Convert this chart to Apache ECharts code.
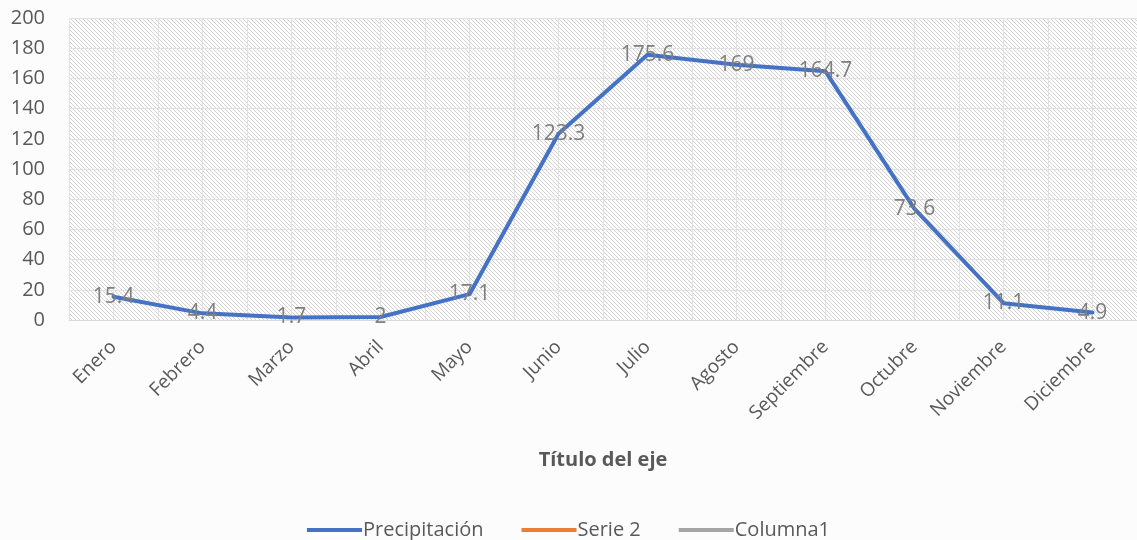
<!DOCTYPE html>
<html>
<head>
<meta charset="utf-8">
<script src="https://cdn.jsdelivr.net/npm/echarts@6/dist/echarts.min.js"></script>
<style>
  html, body { margin: 0; padding: 0; background: #fcfcfc; }
  #chart { width: 1137px; height: 540px; }
</style>
</head>
<body>
<div id="chart"></div>
<script>
// meses y precipitación
var meses = ['Enero', 'Febrero', 'Marzo', 'Abril', 'Mayo', 'Junio', 'Julio', 'Agosto', 'Septiembre', 'Octubre', 'Noviembre', 'Diciembre'];
var precipitacion = [15.4, 4.4, 1.7, 2, 17.1, 123.3, 175.6, 169, 164.7, 73.6, 11.1, 4.9];
var serie2 = [];
var columna1 = [];
var nombres = ['Precipitación', 'Serie 2', 'Columna1'];
var colores = ['#4472C4', '#ED7D31', '#A5A5A5'];

// trama rayada del fondo
function trama() {
  var c = document.createElement('canvas');
  c.width = 8; c.height = 8;
  var ctx = c.getContext('2d');
  ctx.fillStyle = '#ffffff';
  ctx.fillRect(0, 0, 8, 8);
  ctx.fillStyle = '#d2d2d2';
  for (var y = 0; y < 8; y++) {
    for (var x = 0; x < 8; x++) {
      if ((x - y + 8) % 4 == 0) ctx.fillRect(x, y, 1, 1);
    }
  }
  return c;
}

// divisiones a media categoría para las líneas verticales
var medias = [];
for (var i = 0; i < meses.length * 2; i++) medias.push('m' + i);

var chart = echarts.init(document.getElementById('chart'));
var fuente = 'Open Sans, Noto Sans, sans-serif';

var option = {
  backgroundColor: '#fcfcfc',
  color: colores,
  textStyle: { fontFamily: fuente },
  grid: {
    left: 69, top: 18, width: 1073, height: 302,
    show: true,
    borderWidth: 0,
    backgroundColor: { image: trama(), repeat: 'repeat' }
  },
  legend: {
    top: 515,
    left: 'center',
    data: nombres,
    icon: 'rect',
    itemWidth: 55,
    itemHeight: 4,
    itemGap: 38,
    textStyle: { color: '#595959', fontSize: 20, fontFamily: fuente, padding: [0, 0, 0, -4] }
  },
  xAxis: [{
    type: 'category',
    data: meses,
    boundaryGap: true,
    name: 'Título del eje',
    nameLocation: 'middle',
    nameGap: 130,
    nameTextStyle: { color: '#595959', fontSize: 20, fontWeight: 'bold', fontFamily: fuente },
    axisLine: { show: true, lineStyle: { color: '#d9d9d9', width: 1 } },
    axisTick: { show: false },
    splitLine: { show: false },
    axisLabel: { rotate: 45, margin: 24, color: '#595959', fontSize: 19, fontFamily: fuente }
  }, {
    type: 'category',
    data: medias,
    position: 'bottom',
    boundaryGap: true,
    axisLine: { show: false },
    axisTick: { show: false },
    axisLabel: { show: false },
    splitLine: { show: true, lineStyle: { color: '#e2e2e2', width: 1 } }
  }],
  yAxis: {
    type: 'value',
    min: 0, max: 200, interval: 20,
    axisLine: { show: false },
    axisTick: { show: false },
    axisLabel: { margin: 24, color: '#595959', fontSize: 20, fontFamily: fuente },
    splitLine: { show: true, lineStyle: { color: '#e2e2e2', width: 1 } }
  },
  series: [{
    name: nombres[0],
    type: 'line',
    data: precipitacion,
    symbol: 'circle',
    symbolSize: 0,
    showSymbol: true,
    lineStyle: { width: 4, color: colores[0], cap: 'round', join: 'round' },
    label: {
      show: true,
      position: 'inside',
      color: '#7f7f7f',
      fontSize: 21,
      fontFamily: fuente
    },
    z: 5
  }, {
    name: nombres[1],
    type: 'line',
    data: serie2,
    lineStyle: { width: 4, color: colores[1] }
  }, {
    name: nombres[2],
    type: 'line',
    data: columna1,
    lineStyle: { width: 4, color: colores[2] }
  }]
};
chart.setOption(option);
</script>
</body>
</html>
